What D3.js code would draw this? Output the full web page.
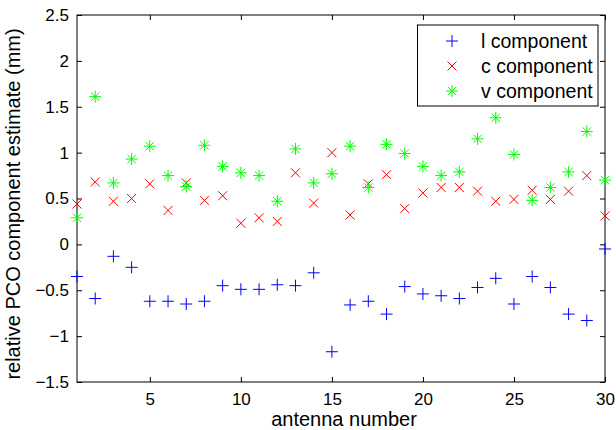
<!DOCTYPE html>
<html>
<head>
<meta charset="utf-8">
<script src="https://cdn.jsdelivr.net/npm/d3@7"></script>
<style>
  body { margin: 0; background: #fff; }
  svg text { font-family: "Liberation Sans", Arial, Helvetica, sans-serif; fill: #000; }
</style>
</head>
<body>
<svg id="chart"></svg>
<script>
// antenna numbers
const ANTENNAS = d3.range(1, 31);

// relative PCO component estimates (mm)
const L_COMP = [-0.35, -0.59, -0.13, -0.25, -0.62, -0.62, -0.65, -0.62, -0.45, -0.49,
                -0.49, -0.44, -0.45, -0.31, -1.17, -0.66, -0.62, -0.76, -0.46, -0.54,
                -0.56, -0.59, -0.47, -0.37, -0.65, -0.35, -0.47, -0.76, -0.83, -0.05];
const C_COMP = [0.44, 0.68, 0.47, 0.50, 0.66, 0.37, 0.67, 0.48, 0.53, 0.23,
                0.29, 0.25, 0.78, 0.45, 1.00, 0.32, 0.66, 0.76, 0.39, 0.56,
                0.62, 0.62, 0.58, 0.47, 0.49, 0.59, 0.49, 0.58, 0.75, 0.31];
const V_COMP = [0.29, 1.61, 0.67, 0.93, 1.07, 0.75, 0.63, 1.08, 0.85, 0.78,
                0.75, 0.47, 1.04, 0.67, 0.77, 1.07, 0.62, 1.09, 0.99, 0.85,
                0.75, 0.79, 1.15, 1.38, 0.98, 0.48, 0.62, 0.79, 1.23, 0.70];

const SERIES_NAMES = ["l component", "c component", "v component"];
const X_TICKS = [5, 10, 15, 20, 25, 30];
const Y_TICKS = [-1.5, -1, -0.5, 0, 0.5, 1, 1.5, 2, 2.5];

const WIDTH = 616;
const HEIGHT = 430;
const LEFT = 77, RIGHT = 605, TOP = 15, BOTTOM = 382;

let svg = d3.select("#chart")
    .attr("width", WIDTH)
    .attr("height", HEIGHT);

let xScale = d3.scaleLinear().domain([1, 30]).range([LEFT, RIGHT]);
let yScale = d3.scaleLinear().domain([-1.5, 2.5]).range([BOTTOM, TOP]);

function fmt(v) {
    return String(v).replace("-", "\u2212");
}

// axes, ticks pointing inward
svg.append("g")
    .attr("transform", "translate(0," + BOTTOM + ")")
    .call(d3.axisBottom(xScale).tickValues(X_TICKS).tickSizeInner(-5).tickSizeOuter(0)
        .tickPadding(11).tickFormat(fmt));
svg.append("g")
    .attr("transform", "translate(" + LEFT + ",0)")
    .call(d3.axisLeft(yScale).tickValues(Y_TICKS).tickSizeInner(-5).tickSizeOuter(0)
        .tickPadding(8).tickFormat(fmt));
svg.append("g")
    .attr("transform", "translate(0," + TOP + ")")
    .call(d3.axisTop(xScale).tickValues(X_TICKS).tickSizeInner(-5).tickSizeOuter(0).tickFormat(""));
svg.append("g")
    .attr("transform", "translate(" + RIGHT + ",0)")
    .call(d3.axisRight(yScale).tickValues(Y_TICKS).tickSizeInner(-5).tickSizeOuter(0).tickFormat(""));

svg.selectAll(".domain").remove();
svg.selectAll(".tick line").attr("stroke", "#000");
svg.selectAll(".tick text").attr("font-size", "17px").attr("fill", "#000");

svg.append("rect")
    .attr("x", LEFT).attr("y", TOP)
    .attr("width", RIGHT - LEFT).attr("height", BOTTOM - TOP)
    .attr("fill", "none").attr("stroke", "#000").attr("stroke-width", 1);

// marker shapes
const PLUS = "M-6,0H6M0,-6V6";
const CROSS = "M-4.5,-4.5L4.5,4.5M-4.5,4.5L4.5,-4.5";
const STAR = "M-6,0H6M0,-6V6M-4.2,-4.2L4.2,4.2M-4.2,4.2L4.2,-4.2";

let series = [
    { name: SERIES_NAMES[0], values: L_COMP, color: "#0000ff", shape: PLUS },
    { name: SERIES_NAMES[1], values: C_COMP, color: "#ff0000", shape: CROSS },
    { name: SERIES_NAMES[2], values: V_COMP, color: "#00ff00", shape: STAR }
];

series.forEach(function(s) {
    svg.append("g").selectAll("path")
        .data(ANTENNAS)
        .enter()
        .append("path")
        .attr("d", s.shape)
        .attr("transform", function(d, i) {
            return "translate(" + xScale(d) + "," + yScale(s.values[i]) + ")";
        })
        .attr("fill", "none")
        .attr("stroke", s.color)
        .attr("stroke-width", 1);
});

// axis labels
svg.append("text")
    .attr("x", (LEFT + RIGHT) / 2 + 3)
    .attr("y", 426)
    .attr("text-anchor", "middle")
    .attr("font-size", "20px")
    .text("antenna number");

svg.append("text")
    .attr("transform", "translate(20,204) rotate(-90)")
    .attr("text-anchor", "middle")
    .attr("font-size", "20px")
    .text("relative PCO component estimate (mm)");

// legend
let legend = svg.append("g");
legend.append("rect")
    .attr("x", 417.5).attr("y", 25)
    .attr("width", 180.5).attr("height", 81)
    .attr("fill", "#fff").attr("stroke", "#000").attr("stroke-width", 1);

series.forEach(function(s, i) {
    let cy = 41 + i * 25;
    legend.append("path")
        .attr("d", s.shape)
        .attr("transform", "translate(452," + cy + ")")
        .attr("fill", "none")
        .attr("stroke", s.color)
        .attr("stroke-width", 1);
    legend.append("text")
        .attr("x", 481)
        .attr("y", cy + 7)
        .attr("font-size", "19.5px")
        .text(s.name);
});
</script>
</body>
</html>
